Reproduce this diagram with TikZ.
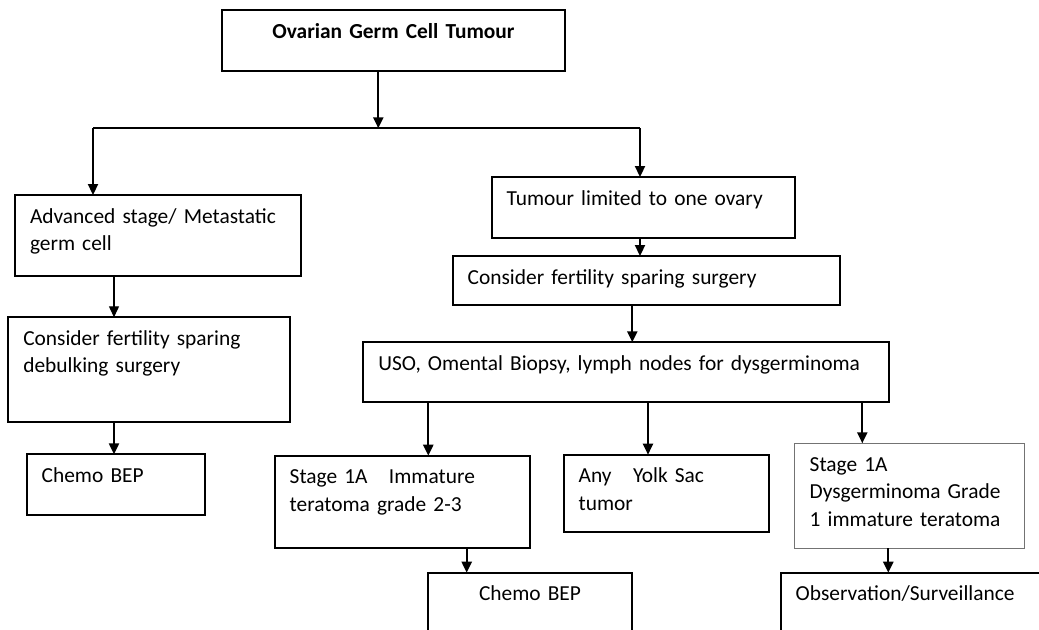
\documentclass[tikz,border=0pt]{standalone}
\usepackage{fontspec}
\setmainfont{Carlito}
\usetikzlibrary{arrows.meta,positioning,calc}

\tikzset{
  box/.style={draw, line width=1.1pt, outer sep=0pt, anchor=north west, align=left,
    inner xsep=7.5pt, inner ysep=5pt, text height=9pt,
    font=\fontsize{10.7}{13.7}\selectfont},
  thinbox/.style={box, line width=0.5pt, draw=black!55},
  arr/.style={line width=1.1pt, -{Triangle[width=5pt,length=5.5pt]}},
  thinarr/.style={line width=0.6pt, -{Triangle[width=5pt,length=5.5pt]}},
}

\begin{document}
\begin{tikzpicture}[x=0.5pt,y=-0.5pt]
  \useasboundingbox (0,0) rectangle (1039,629);
  \clip (0,0) rectangle (1039,629);

  % boxes
  \node[box, text width=156.5pt, align=center, text depth=11.5pt,
        font=\fontsize{10.7}{13.7}\selectfont\bfseries] (ogct) at (222,10.3) {Ovarian Germ Cell Tumour};

  \node[box, text width=127.8pt, text depth=21.5pt] (adv) at (15,195) {Advanced stage/ Metastatic\\germ cell};
  \node[box, text width=125.8pt, text depth=33.5pt] (deb) at (8.3,317.3) {Consider fertility sparing\\debulking surgery};
  \node[box, text width=74.2pt, text depth=11.3pt] (bepl) at (26.7,454.3) {Chemo BEP};

  \node[box, text width=136.8pt, text depth=11.3pt] (tum) at (491.7,177) {Tumour limited to one ovary};
  \node[box, text width=178.8pt, text depth=5.5pt] (fss) at (452.7,256) {Consider fertility sparing surgery};
  \node[box, text width=247.8pt, text depth=11pt] (uso) at (363.3,342.3) {USO, Omental Biopsy, lymph nodes for dysgerminoma};

  \node[box, text width=112.8pt, text depth=27.3pt] (imm) at (274.7,455.7) {Stage 1A\ \ \ Immature\\teratoma grade 2-3};
  \node[box, text width=87.8pt, text depth=19.8pt] (yolk) at (563.7,454.7) {Any\ \ \ Yolk Sac\\tumor};
  \node[thinbox, text width=100pt, text depth=33.5pt] (dys) at (794.7,443.3) {Stage 1A\\Dysgerminoma Grade\\1 immature teratoma};

  \node[box, text width=87.3pt, align=center, text depth=30pt] (bepr) at (427.7,572.7) {Chemo BEP};
  \node[box, text width=125pt, text depth=30pt] (obs) at (780.7,572.7) {Observation/Surveillance};

  % connectors
  \coordinate (split) at (378.3,128.3);
  \coordinate (jl) at (93,128.3);
  \coordinate (jr) at (640,128.3);
  \draw[arr] (split |- ogct.south) -- (split);
  \draw[line width=1.1pt] (jl) -- (jr);
  \draw[arr] (jl) -- (jl |- adv.north);
  \draw[arr] (jr) -- (jr |- tum.north);

  \draw[thinarr] (114,0 |- adv.south) -- (114,0 |- deb.north);
  \draw[arr] (114,0 |- deb.south) -- (114,0 |- bepl.north);

  \draw[arr] (640,0 |- tum.south) -- (640,0 |- fss.north);
  \draw[arr] (632.3,0 |- fss.south) -- (632.3,0 |- uso.north);
  \draw[arr] (428.3,0 |- uso.south) -- (428.3,0 |- imm.north);
  \draw[arr] (648,0 |- uso.south) -- (648,0 |- yolk.north);
  \draw[arr] (862.3,0 |- uso.south) -- (862.3,0 |- dys.north);
  \draw[arr] (466.7,0 |- imm.south) -- (466.7,0 |- bepr.north);
  \draw[arr] (888.3,0 |- dys.south) -- (888.3,0 |- obs.north);
\end{tikzpicture}
\end{document}
